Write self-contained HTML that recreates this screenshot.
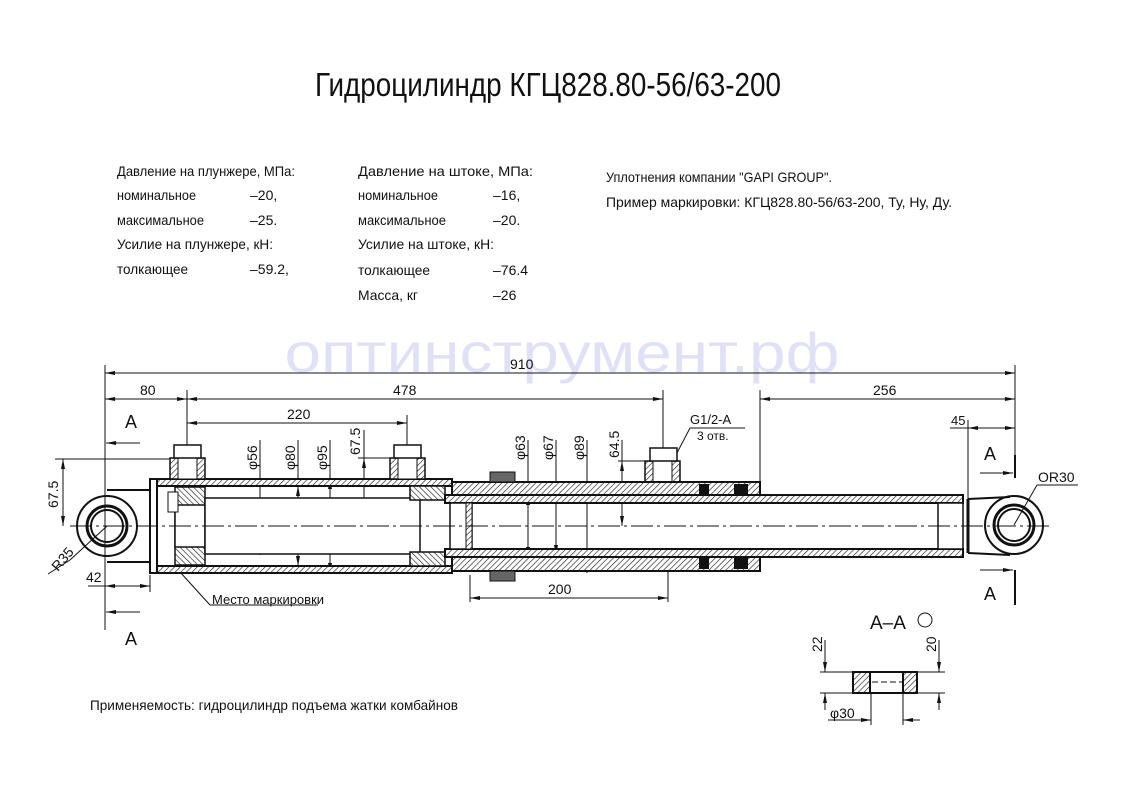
<!DOCTYPE html>
<html><head><meta charset="utf-8"><style>
html,body{margin:0;padding:0;background:#fff;}
svg{display:block;font-family:"Liberation Sans","DejaVu Sans",sans-serif;}
text{fill:#111;}
</style></head><body>
<svg width="1123" height="793" viewBox="0 0 1123 793" xmlns="http://www.w3.org/2000/svg">
<defs>
<pattern id="h" width="4" height="4" patternUnits="userSpaceOnUse" patternTransform="rotate(45)">
<rect width="4" height="4" fill="#fff"/><line x1="0" y1="0" x2="0" y2="4" stroke="#222" stroke-width="1.3"/>
</pattern>
<pattern id="h2" width="4" height="4" patternUnits="userSpaceOnUse" patternTransform="rotate(-45)">
<rect width="4" height="4" fill="#fff"/><line x1="0" y1="0" x2="0" y2="4" stroke="#222" stroke-width="1.3"/>
</pattern>
<marker id="a" viewBox="0 0 10 4" refX="10" refY="2" markerWidth="10" markerHeight="4" orient="auto-start-reverse" markerUnits="userSpaceOnUse"><path d="M0,0 L10,2 L0,4z" fill="#111"/></marker>
</defs>

<text x="562" y="372" font-size="56" text-anchor="middle" style="fill:#e0e1f7" textLength="555" lengthAdjust="spacingAndGlyphs">оптинструмент.рф</text>

<text x="548" y="96" font-size="33" text-anchor="middle" textLength="466" lengthAdjust="spacingAndGlyphs">Гидроцилиндр КГЦ828.80-56/63-200</text>

<g font-size="14">
<text x="117" y="176" textLength="178" lengthAdjust="spacingAndGlyphs">Давление на плунжере, МПа:</text>
<text x="117" y="200" textLength="79" lengthAdjust="spacingAndGlyphs">номинальное</text><text x="250" y="200">–20,</text>
<text x="117" y="225" textLength="87" lengthAdjust="spacingAndGlyphs">максимальное</text><text x="250" y="225">–25.</text>
<text x="117" y="249" textLength="156" lengthAdjust="spacingAndGlyphs">Усилие на плунжере, кН:</text>
<text x="117" y="274" textLength="71" lengthAdjust="spacingAndGlyphs">толкающее</text><text x="250" y="274">–59.2,</text>

<text x="358" y="176" textLength="175" lengthAdjust="spacingAndGlyphs">Давление на штоке, МПа:</text>
<text x="358" y="200" textLength="80" lengthAdjust="spacingAndGlyphs">номинальное</text><text x="493" y="200">–16,</text>
<text x="358" y="225" textLength="88" lengthAdjust="spacingAndGlyphs">максимальное</text><text x="493" y="225">–20.</text>
<text x="358" y="249" textLength="136" lengthAdjust="spacingAndGlyphs">Усилие на штоке, кН:</text>
<text x="358" y="275" textLength="72" lengthAdjust="spacingAndGlyphs">толкающее</text><text x="493" y="275">–76.4</text>
<text x="358" y="300" textLength="60" lengthAdjust="spacingAndGlyphs">Масса, кг</text><text x="493" y="300">–26</text>

<text x="606" y="182" textLength="226" lengthAdjust="spacingAndGlyphs">Уплотнения компании "GAPI GROUP".</text>
<text x="606" y="207" textLength="346" lengthAdjust="spacingAndGlyphs">Пример маркировки: КГЦ828.80-56/63-200, Ту, Ну, Ду.</text>
<text x="90" y="710" textLength="368" lengthAdjust="spacingAndGlyphs">Применяемость: гидроцилиндр подъема жатки комбайнов</text>
</g>

<g stroke="#111" fill="none" stroke-width="1">
<line x1="105" y1="365" x2="105" y2="630"/>
<line x1="1015" y1="365" x2="1015" y2="470"/>
<line x1="1015" y1="570" x2="1015" y2="605" stroke-width="2"/>
<line x1="1015" y1="455" x2="1015" y2="478" stroke-width="2"/>
<line x1="187" y1="390" x2="187" y2="445"/>
<line x1="663" y1="390" x2="663" y2="460"/>
<line x1="760" y1="390" x2="760" y2="495"/>
<line x1="407" y1="415" x2="407" y2="445"/>
<line x1="968" y1="420" x2="968" y2="500"/>
<line x1="150" y1="575" x2="150" y2="592"/>
<line x1="470" y1="575" x2="470" y2="602"/>
<line x1="668" y1="555" x2="668" y2="602"/>
<line x1="105" y1="373" x2="1015" y2="373" marker-start="url(#a)" marker-end="url(#a)"/>
<line x1="105" y1="399" x2="187" y2="399" marker-start="url(#a)" marker-end="url(#a)"/>
<line x1="187" y1="399" x2="663" y2="399" marker-start="url(#a)" marker-end="url(#a)"/>
<line x1="760" y1="399" x2="1015" y2="399" marker-start="url(#a)" marker-end="url(#a)"/>
<line x1="187" y1="423" x2="407" y2="423" marker-start="url(#a)" marker-end="url(#a)"/>
<line x1="950" y1="428" x2="1015" y2="428"/>
<line x1="968" y1="428" x2="1015" y2="428" marker-start="url(#a)" marker-end="url(#a)"/>
<line x1="105" y1="586" x2="150" y2="586" marker-start="url(#a)" marker-end="url(#a)"/>
<line x1="88" y1="586" x2="105" y2="586"/>
<line x1="470" y1="598" x2="668" y2="598" marker-start="url(#a)" marker-end="url(#a)"/>
<line x1="140" y1="443" x2="106" y2="443" marker-end="url(#a)"/>
<line x1="140" y1="612" x2="106" y2="612" marker-end="url(#a)"/>
<line x1="980" y1="473" x2="1013" y2="473" marker-end="url(#a)"/>
<line x1="980" y1="570" x2="1013" y2="570" marker-end="url(#a)"/>
<line x1="55" y1="459" x2="180" y2="459"/>
<line x1="63" y1="459" x2="63" y2="526" marker-start="url(#a)" marker-end="url(#a)"/>
<line x1="260" y1="440" x2="260" y2="555"/><line x1="260" y1="498" x2="260" y2="554" marker-start="url(#a)" marker-end="url(#a)"/>
<line x1="298" y1="440" x2="298" y2="566"/><line x1="298" y1="486" x2="298" y2="566" marker-start="url(#a)" marker-end="url(#a)"/>
<line x1="330" y1="440" x2="330" y2="573"/><line x1="330" y1="479" x2="330" y2="573" marker-start="url(#a)" marker-end="url(#a)"/>
<line x1="358" y1="458" x2="400" y2="458"/>
<line x1="364" y1="430" x2="364" y2="526"/><line x1="364" y1="458" x2="364" y2="526" marker-start="url(#a)" marker-end="url(#a)"/>
<line x1="528" y1="440" x2="528" y2="557"/><line x1="528" y1="495" x2="528" y2="557" marker-start="url(#a)" marker-end="url(#a)"/>
<line x1="556" y1="440" x2="556" y2="555"/><line x1="556" y1="490" x2="556" y2="555" marker-start="url(#a)" marker-end="url(#a)"/>
<line x1="587" y1="440" x2="587" y2="573"/>
<line x1="618" y1="461" x2="655" y2="461"/>
<line x1="622" y1="440" x2="622" y2="526"/><line x1="622" y1="461" x2="622" y2="526" marker-start="url(#a)" marker-end="url(#a)"/>
<line x1="70" y1="560" x2="107" y2="526"/>
<line x1="48" y1="574" x2="70" y2="560"/>
<line x1="180" y1="572" x2="210" y2="605"/><line x1="210" y1="605" x2="318" y2="605"/>
<line x1="665" y1="476" x2="690" y2="428"/><line x1="690" y1="428" x2="745" y2="428"/>
<line x1="1014" y1="525" x2="1037" y2="485"/><line x1="1037" y1="485" x2="1078" y2="485"/>
</g>
<g font-size="14">
<text x="510" y="369">910</text>
<text x="140" y="395">80</text>
<text x="393" y="395">478</text>
<text x="873" y="395">256</text>
<text x="287" y="419">220</text>
<text x="951" y="425" font-size="13">45</text>
<text x="86" y="582">42</text>
<text x="548" y="594">200</text>
<text x="212" y="604" font-size="13">Место маркировки</text>
<text x="690" y="424" font-size="13">G1/2-A</text>
<text x="697" y="440" font-size="12">3 отв.</text>
<text x="1038" y="482">OR30</text>
<text x="125" y="428" font-size="18">A</text>
<text x="125" y="645" font-size="18">A</text>
<text x="984" y="460" font-size="18">A</text>
<text x="984" y="600" font-size="18">A</text>
<text x="870" y="629" font-size="19">A–A</text>
<text transform="translate(58,508) rotate(-90)">67.5</text>
<text transform="translate(58,572) rotate(-50)">R35</text>
<text transform="translate(257,470) rotate(-90)">φ56</text>
<text transform="translate(295,470) rotate(-90)">φ80</text>
<text transform="translate(327,470) rotate(-90)">φ95</text>
<text transform="translate(360,455) rotate(-90)">67.5</text>
<text transform="translate(525,460) rotate(-90)">φ63</text>
<text transform="translate(553,460) rotate(-90)">φ67</text>
<text transform="translate(584,460) rotate(-90)">φ89</text>
<text transform="translate(619,458) rotate(-90)">64.5</text>
<text transform="translate(822,652) rotate(-90)">22</text>
<text transform="translate(936,652) rotate(-90)">20</text>
<text x="830" y="718">φ30</text>
</g>
<circle cx="925" cy="620" r="7" fill="none" stroke="#111"/>

<g stroke="#111" stroke-width="2" fill="none">
<circle cx="107" cy="526" r="30"/>
<circle cx="107" cy="526" r="20" stroke-width="3"/>
<circle cx="107" cy="526" r="16"/>
<line x1="107" y1="490" x2="150" y2="490"/><line x1="107" y1="562" x2="150" y2="562"/>
<rect x="150" y="479" width="7" height="94" fill="#fff"/>
<rect x="157" y="479" width="295" height="7" fill="url(#h)"/>
<rect x="157" y="566" width="295" height="7" fill="url(#h)"/>
<rect x="175" y="487" width="30" height="78" fill="url(#h2)" stroke-width="1.5"/>
<rect x="175" y="505" width="30" height="42" fill="#fff" stroke-width="1.5"/>
<rect x="168" y="492" width="10" height="20" fill="#fff" stroke-width="1"/>
<rect x="205" y="498" width="215" height="56" fill="#fff" stroke-width="1.5"/>
<rect x="170" y="458" width="35" height="21" fill="url(#h)" stroke-width="1.5"/>
<rect x="178" y="458" width="19" height="21" fill="#fff" stroke-width="1"/>
<rect x="174" y="445" width="27" height="13" fill="#fff" stroke-width="1.5"/>
<rect x="390" y="458" width="35" height="21" fill="url(#h)" stroke-width="1.5"/>
<rect x="398" y="458" width="19" height="21" fill="#fff" stroke-width="1"/>
<rect x="394" y="445" width="27" height="13" fill="#fff" stroke-width="1.5"/>
<rect x="645" y="461" width="35" height="21" fill="url(#h)" stroke-width="1.5"/>
<rect x="653" y="461" width="19" height="21" fill="#fff" stroke-width="1"/>
<rect x="650" y="448" width="27" height="13" fill="#fff" stroke-width="1.5"/>
<rect x="410" y="486" width="35" height="14" fill="url(#h2)" stroke-width="1.5"/>
<rect x="410" y="552" width="35" height="14" fill="url(#h2)" stroke-width="1.5"/>
<rect x="452" y="482" width="308" height="14" fill="url(#h)"/>
<rect x="452" y="557" width="308" height="14" fill="url(#h)"/>
<rect x="490" y="472" width="25" height="10" fill="#666" stroke-width="1"/>
<rect x="490" y="571" width="25" height="10" fill="#666" stroke-width="1"/>
<rect x="445" y="495" width="518" height="8" fill="url(#h)"/>
<rect x="445" y="549" width="518" height="8" fill="url(#h)"/>
<rect x="450" y="503" width="22" height="46" fill="#fff" stroke-width="1.5"/>
<rect x="466" y="503" width="6" height="46" fill="url(#h)" stroke-width="1"/>
<rect x="938" y="503" width="25" height="46" fill="#fff" stroke-width="1.5"/>
<rect x="700" y="485" width="8" height="10" fill="#111"/>
<rect x="735" y="485" width="12" height="10" fill="#111"/>
<rect x="700" y="558" width="8" height="10" fill="#111"/>
<rect x="735" y="558" width="12" height="10" fill="#111"/>
<path d="M968,499 L1010,497 M968,553 L1010,555"/>
<line x1="968" y1="499" x2="968" y2="553" stroke-width="3"/>
<circle cx="1014" cy="525" r="29"/>
<circle cx="1014" cy="525" r="20" stroke-width="3"/>
<circle cx="1014" cy="525" r="16"/>
</g>
<line x1="70" y1="526" x2="1050" y2="526" stroke="#111" stroke-width="1" stroke-dasharray="22,4,3,4"/>

<g stroke="#111" fill="none" stroke-width="1">
<line x1="820" y1="672" x2="945" y2="672"/><line x1="820" y1="693" x2="945" y2="693"/>
<line x1="825" y1="640" x2="825" y2="672" marker-end="url(#a)"/>
<line x1="825" y1="710" x2="825" y2="693" marker-end="url(#a)"/>
<line x1="939" y1="640" x2="939" y2="672" marker-end="url(#a)"/>
<line x1="939" y1="710" x2="939" y2="693" marker-end="url(#a)"/>
<line x1="871" y1="693" x2="871" y2="725"/><line x1="903" y1="693" x2="903" y2="725"/>
<line x1="857" y1="720" x2="871" y2="720" marker-end="url(#a)"/>
<line x1="920" y1="720" x2="903" y2="720" marker-end="url(#a)"/>
<line x1="828" y1="720" x2="871" y2="720"/>
<rect x="853" y="672" width="64" height="21" fill="url(#h)" stroke-width="2"/>
<rect x="870" y="672" width="33" height="21" fill="#fff" stroke-width="2"/>
<line x1="872" y1="682" x2="902" y2="682" stroke-dasharray="6,3"/>
</g>
</svg>
</body></html>
